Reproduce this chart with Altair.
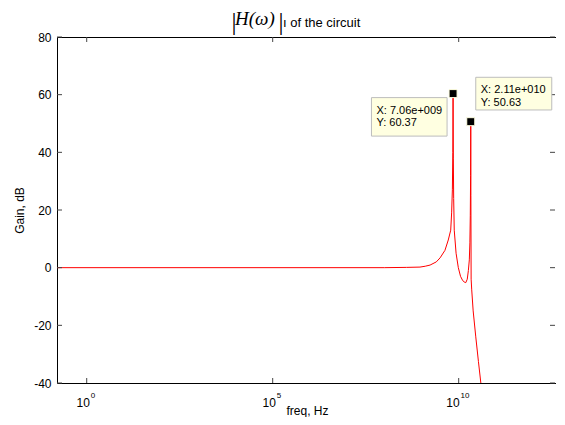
import altair as alt
import pandas as pd

# ---- data ----
freq_hz = [0.159, 1e8, 4e8, 9.1e8, 1.26e9, 1.7e9, 2.5e9, 3.16e9, 4.27e9, 5.25e9,
           6.1e9, 6.46e9, 6.76e9, 6.95e9, 7.06e9, 7.18e9, 7.33e9, 7.59e9, 8.51e9,
           9.77e9, 1.12e10, 1.26e10, 1.41e10, 1.55e10, 1.7e10, 1.82e10, 1.93e10,
           2.0e10, 2.05e10, 2.09e10, 2.11e10, 2.13e10, 2.16e10, 2.24e10, 2.45e10,
           2.88e10, 3.39e10, 3.98e10, 5.0e10]
gain_db = [0.0, 0.0, 0.1, 0.2, 0.5, 0.9, 2.0, 3.4, 6.0, 9.6,
           13.0, 19.0, 27.0, 40.0, 60.37, 38.0, 24.0, 13.0, 5.0,
           0.0, -3.0, -4.3, -5.0, -5.2, -4.0, -1.0, 2.7,
           8.6, 18.0, 32.0, 50.63, 25.0, -4.0, -7.7, -15.0,
           -24.0, -32.5, -40.5, -53.0]

tip_freq = [7.06e9, 2.11e10]
tip_gain = [60.37, 50.63]
tip_xlabel = ["X: 7.06e+009", "X: 2.11e+010"]
tip_ylabel = ["Y: 60.37", "Y: 50.63"]

x_ticks = [1.0, 1e5, 1e10]
x_tick_exp = ["0", "5", "10"]
y_ticks = [80, 60, 40, 20, 0, -20, -40]

title_bar = "|"
title_math = "H(ω)"
title_rest = "ı of the circuit"
x_title = "freq, Hz"
y_title = "Gain, dB"

W, H = 499, 346
FONT = "Liberation Sans"
SERIF = "Liberation Serif"

curve = pd.DataFrame({"freq": freq_hz, "gain": gain_db})
tips = pd.DataFrame({"freq": tip_freq, "gain": tip_gain,
                     "xl": tip_xlabel, "yl": tip_ylabel})
xt = pd.DataFrame({"freq": x_ticks, "exp": x_tick_exp})
yt = pd.DataFrame({"gain": y_ticks})

xscale = alt.Scale(type="log", domain=[0.159, 4.13e12], nice=False)
yscale = alt.Scale(domain=[-40, 80], nice=False)


def X(**kw):
    return alt.X("freq:Q", scale=xscale, axis=None, **kw)


def Y():
    return alt.Y("gain:Q", scale=yscale)


line = alt.Chart(curve).mark_line(color="#ff0000", strokeWidth=1, clip=True).encode(
    x=alt.X("freq:Q", scale=xscale,
            axis=alt.Axis(labels=False, ticks=False, grid=False, domainColor="black",
                          title=x_title, titleFont=FONT, titleFontSize=12,
                          titleFontWeight="normal", titleColor="black",
                          titleBaseline="alphabetic", titleY=31.5, titleX=250)),
    y=alt.Y("gain:Q", scale=yscale,
            axis=alt.Axis(values=y_ticks, ticks=False, grid=False, domainColor="black",
                          labelFont=FONT, labelFontSize=12, labelColor="black",
                          labelExpr="toString(datum.value)",
                          labelPadding=6, title=y_title, titleFont=FONT,
                          titleFontSize=12, titleFontWeight="normal",
                          titleColor="black", titleAngle=-90, titleX=-38,
                          titleY=H / 2, titleAlign="center",
                          titleBaseline="middle")),
)

# top border via a top axis
top = alt.Chart(xt).mark_point(opacity=0).encode(
    x=alt.X("freq:Q", scale=xscale,
            axis=alt.Axis(orient="top", labels=False, ticks=False, grid=False,
                          domainColor="black", title=None)),
)

tick_col = "#444444"
bt = alt.Chart(xt).mark_rule(color=tick_col).encode(
    x=X(), y=alt.value(H), y2=alt.value(H - 5))
tt = alt.Chart(xt).mark_rule(color=tick_col).encode(
    x=X(), y=alt.value(0), y2=alt.value(5))
lt = alt.Chart(yt).mark_rule(color=tick_col).encode(
    y=Y(), x=alt.value(0), x2=alt.value(5))
rt = alt.Chart(yt).mark_rule(color=tick_col).encode(
    y=Y(), x=alt.value(W - 1), x2=alt.value(W - 6))

# x tick labels "10" with superscript exponent
xlabels = []
for i, e in enumerate(x_tick_exp):
    wexp = 4.45 * len(e)
    dx = (13.3 - wexp) / 2 - 1.2
    sub = alt.Chart(xt).transform_filter(alt.datum.exp == e)
    xlabels.append(sub.mark_text(font=FONT, fontSize=12, align="right",
                                 baseline="alphabetic", dx=dx, color="black").encode(
        x=X(), y=alt.value(H + 24), text=alt.value("10")))
    xlabels.append(sub.mark_text(font=FONT, fontSize=8, align="left",
                                 baseline="alphabetic", dx=dx + 0.8, color="black").encode(
        x=X(), y=alt.value(H + 15), text="exp:N"))

# data tips
tip_layers = []
offsets = [
    # box x0, x1, y0, y1, text dx, line1 dy, line2 dy
    (-81.6, -6, 4, 42.5, -76.6, 17.5, 29.5),
    (5, 81, -44.4, -11.7, 10, -31.2, -18.2),
]
for i, (bx0, bx1, by0, by1, tdx, d1, d2) in enumerate(offsets):
    sub = alt.Chart(tips).transform_filter(alt.datum.xl == tip_xlabel[i])
    tip_layers.append(sub.mark_rect(fill="#ffffe1", stroke="#bdbdbd", strokeWidth=1,
                                    xOffset=bx0, x2Offset=bx1,
                                    yOffset=by0, y2Offset=by1).encode(
        x=X(), x2="freq:Q", y=Y(), y2="gain:Q"))
    tip_layers.append(sub.mark_text(font=FONT, fontSize=11, align="left",
                                    baseline="middle", dx=tdx, dy=d1,
                                    color="black").encode(
        x=X(), y=Y(), text="xl:N"))
    tip_layers.append(sub.mark_text(font=FONT, fontSize=11, align="left",
                                    baseline="middle", dx=tdx, dy=d2,
                                    color="black").encode(
        x=X(), y=Y(), text="yl:N"))

markers = alt.Chart(tips).mark_square(size=64, fill="black", stroke="#ffffe1",
                                      strokeWidth=1, opacity=1).encode(
    x=X(), y=Y())

# title pieces (positioned above the plot area)
tdf = pd.DataFrame({"bar": [title_bar], "math": [title_math], "rest": [title_rest]})
tb1 = alt.Chart(tdf).mark_text(font=SERIF, fontSize=25, align="left",
                               baseline="middle", color="black").encode(
    text="bar:N", x=alt.value(174.5), y=alt.value(-15.5))
tb2 = alt.Chart(tdf).mark_text(font=SERIF, fontSize=25, align="left",
                               baseline="middle", color="black").encode(
    text="bar:N", x=alt.value(221.5), y=alt.value(-15.5))
tm = alt.Chart(tdf).mark_text(font=SERIF, fontStyle="italic", fontSize=19,
                              align="left", baseline="alphabetic",
                              color="black").encode(
    text="math:N", x=alt.value(178), y=alt.value(-12))
tr = alt.Chart(tdf).mark_text(font=FONT, fontSize=13, align="left",
                              baseline="alphabetic", color="black").encode(
    text="rest:N", x=alt.value(226), y=alt.value(-10.5))

chart = alt.layer(line, top, bt, tt, lt, rt, *xlabels, *tip_layers, markers,
                  tb1, tb2, tm, tr
).resolve_axis(x="independent").properties(
    width=W, height=H,
    autosize=alt.AutoSizeParams(type="none"),
    padding={"left": 49, "top": 29, "right": 0, "bottom": 34},
).configure_view(stroke=None).configure(background="white")

chart.save("out.html", embed_options={"renderer": "svg", "actions": False})
